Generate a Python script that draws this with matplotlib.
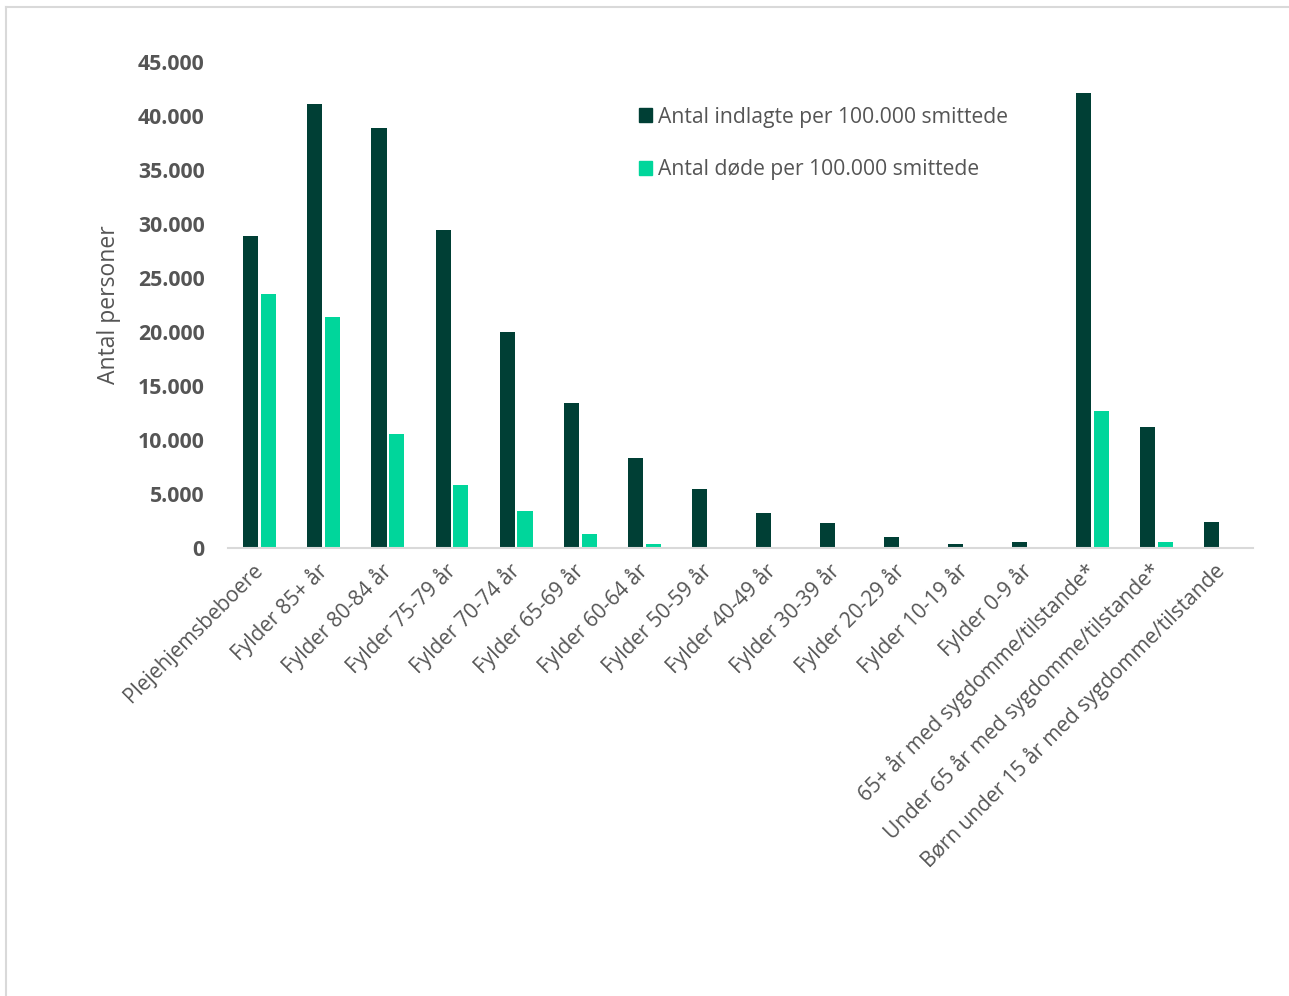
import matplotlib.pyplot as plt
import numpy as np
from matplotlib.patches import Patch
from matplotlib.lines import Line2D

plt.rcParams['font.family'] = ['Open Sans', 'DejaVu Sans']

categories = ["Plejehjemsbeboere", "Fylder 85+ år", "Fylder 80-84 år", "Fylder 75-79 år",
              "Fylder 70-74 år", "Fylder 65-69 år", "Fylder 60-64 år", "Fylder 50-59 år",
              "Fylder 40-49 år", "Fylder 30-39 år", "Fylder 20-29 år", "Fylder 10-19 år",
              "Fylder 0-9 år", "65+ år med sygdomme/tilstande*",
              "Under 65 år med sygdomme/tilstande*", "Børn under 15 år med sygdomme/tilstande"]
indlagte = [28900, 41100, 38900, 29400, 20000, 13400, 8300, 5400, 3250, 2300, 1000, 350, 550,
            42100, 11200, 2400]
doede = [23500, 21400, 10500, 5850, 3400, 1250, 350, 100, 0, 0, 0, 0, 0, 12700, 500, 0]

dark = "#003f35"
green = "#00d69b"
grey = "#555555"

fig = plt.figure(figsize=(12.89, 9.96), dpi=100)
ax = fig.add_axes([0.177, 0.450, 0.795, 0.488])

x = np.arange(len(categories))
w = 0.235
ax.bar(x - 0.145, indlagte, width=w, color=dark)
ax.bar(x + 0.135, doede, width=w, color=green)

ax.set_xlim(-0.5, len(categories) - 0.5)
ax.set_ylim(0, 45000)
yt = np.arange(0, 45001, 5000)
ax.set_yticks(yt)
ax.set_yticklabels(["0" if v == 0 else f"{v:,}".replace(",", ".") for v in yt],
                   fontsize=15.3, fontweight='bold', color=grey)
ax.set_xticks(x)
ax.set_xticklabels(categories, rotation=45, ha='right', va='center', rotation_mode='anchor',
                   fontsize=15, color=grey)
ax.tick_params(axis='x', length=0, pad=14)
ax.tick_params(axis='y', length=0, pad=17)
for s in ['top', 'right', 'left']:
    ax.spines[s].set_visible(False)
ax.spines['bottom'].set_color("#d9d9d9")
ax.spines['bottom'].set_linewidth(1.5)

ax.set_ylabel("Antal personer", fontsize=16.5, color=grey, labelpad=12)

handles = [Patch(color=dark), Patch(color=green)]
fig.legend(handles, ["Antal indlagte per 100.000 smittede", "Antal døde per 100.000 smittede"],
           loc='upper left', bbox_to_anchor=(0.481, 0.912), frameon=False, fontsize=15.2,
           labelcolor=grey, handlelength=0.62, handleheight=0.62, handletextpad=0.3,
           labelspacing=1.5)

# outer border like the chart area frame
fig.add_artist(Line2D([0.005, 0.005], [0.0, 0.993], transform=fig.transFigure,
                      color="#d9d9d9", lw=1.5))
fig.add_artist(Line2D([0.005, 1.0], [0.993, 0.993], transform=fig.transFigure,
                      color="#d9d9d9", lw=1.5))

fig.savefig("out.png", dpi=100)
